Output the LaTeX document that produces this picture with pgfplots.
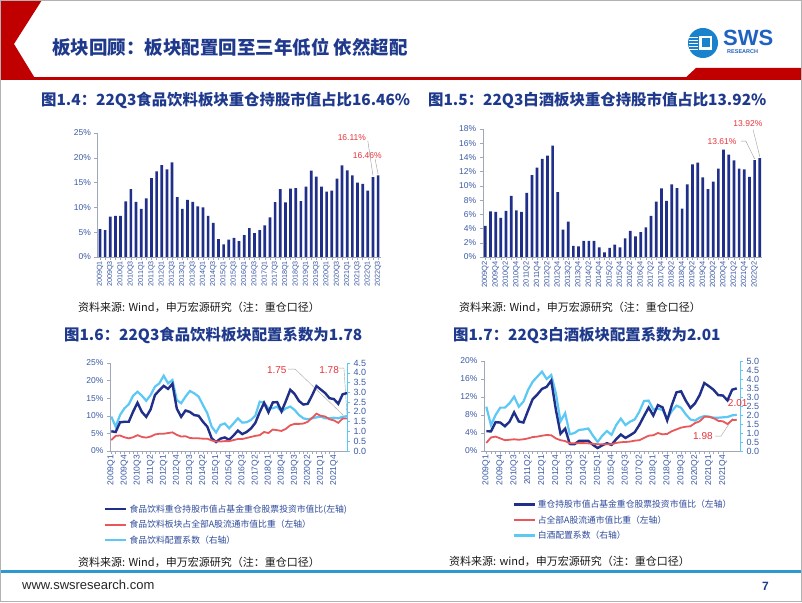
\documentclass[border=0pt]{standalone}
\usepackage{pgfplots}
\pgfplotsset{compat=1.18}
\usepackage{pgfplotstable}
\usepackage{fontspec}
\setmainfont{Liberation Sans}
\newfontfamily\cjk{Noto Sans CJK SC}
\definecolor{navy}{HTML}{1F2F8A}
\definecolor{lred}{HTML}{E8585A}
\definecolor{lblue}{HTML}{5BC8F5}
\definecolor{titleblue}{HTML}{1F3A8C}
\definecolor{tickblue}{HTML}{3B5BA5}
\definecolor{legblue}{HTML}{2E4A9A}
\definecolor{axisgray}{HTML}{A0A8B8}
\definecolor{hdrred}{HTML}{C00000}
\definecolor{footblue}{HTML}{2C9AD1}
\definecolor{annored}{HTML}{E8333A}
\definecolor{logoblue}{HTML}{1E63C0}

% Chart 1: food & beverage heavy-holding share (2009Q1-2022Q3)
\pgfplotstableread[row sep=\\]{
v\\ 5.6\\ 5.4\\ 8.15\\ 8.3\\ 8.3\\ 11.2\\ 13.7\\ 11.1\\ 9.7\\ 11.8\\
15.9\\ 17.25\\ 18.5\\ 17.65\\ 19.1\\ 12.05\\ 9.7\\ 11.5\\ 11.1\\ 10.2\\
10.0\\ 8.3\\ 6.9\\ 3.6\\ 2.55\\ 3.5\\ 3.85\\ 3.2\\ 4.4\\ 5.8\\
4.8\\ 5.4\\ 6.4\\ 8.0\\ 11.05\\ 13.7\\ 11.0\\ 13.8\\ 13.9\\ 11.25\\
14.2\\ 17.4\\ 16.2\\ 14.2\\ 13.2\\ 13.4\\ 15.8\\ 18.45\\ 17.45\\ 16.45\\
15.0\\ 14.75\\ 13.4\\ 16.11\\ 16.46\\
}\tA
% Chart 2: baijiu heavy-holding share (2009Q2-2022Q3)
\pgfplotstableread[row sep=\\]{
v\\ 4.36\\ 6.4\\ 6.33\\ 5.5\\ 6.5\\ 8.6\\ 6.56\\ 6.33\\ 9.0\\ 11.53\\
12.56\\ 13.8\\ 14.25\\ 15.66\\ 9.14\\ 3.84\\ 4.97\\ 1.55\\ 1.5\\ 2.25\\
2.25\\ 2.25\\ 1.36\\ 0.66\\ 1.27\\ 1.73\\ 1.36\\ 2.63\\ 3.66\\ 2.9\\
3.5\\ 4.17\\ 5.8\\ 7.78\\ 9.66\\ 7.88\\ 10.2\\ 9.7\\ 6.8\\ 10.2\\
13.03\\ 13.27\\ 11.2\\ 9.56\\ 10.6\\ 12.42\\ 15.1\\ 14.4\\ 13.6\\ 12.42\\
12.33\\ 11.25\\ 13.61\\ 13.92\\
}\tB
% Chart 3: d = holding share, r = A-share weight, c = allocation coefficient
\pgfplotstableread[row sep=\\]{
d r c\\
5.6 3.1 1.76\\ 5.4 4.3 1.24\\ 8.15 4.4 1.84\\ 8.3 3.9 2.18\\ 8.3 3.6 2.39\\
11.2 3.9 2.83\\ 13.7 4.5 3.03\\ 11.1 4.0 2.83\\ 9.7 3.8 2.57\\ 11.8 4.1 2.86\\
15.9 4.7 3.29\\ 17.25 4.9 3.46\\ 18.5 4.9 3.85\\ 17.65 5.1 3.46\\ 19.1 5.3 3.63\\
12.05 4.6 2.61\\ 9.7 4.1 2.44\\ 11.5 4.2 2.78\\ 11.1 3.7 3.07\\ 10.2 3.6 2.95\\
10.0 3.6 2.78\\ 8.3 3.5 2.35\\ 6.9 3.5 1.93\\ 3.6 3.0 1.24\\ 2.55 2.7 0.95\\
3.5 2.7 1.33\\ 3.85 2.8 1.41\\ 3.2 2.8 1.16\\ 4.4 3.1 1.41\\ 5.8 3.4 1.67\\
4.8 3.4 1.45\\ 5.4 3.7 1.47\\ 6.4 4.0 1.59\\ 8.0 4.3 1.81\\ 11.05 4.5 2.52\\
13.7 5.4 2.47\\ 11.0 5.1 2.18\\ 13.8 6.1 2.18\\ 13.9 5.9 2.27\\ 11.25 5.7 2.01\\
14.2 6.3 2.18\\ 17.4 7.3 2.27\\ 16.2 7.7 2.1\\ 14.2 7.7 1.84\\ 13.2 7.8 1.67\\
13.4 8.3 1.62\\ 15.8 9.4 1.67\\ 18.45 10.6 1.72\\ 17.45 10.0 1.76\\ 16.45 9.8 1.67\\
15.0 9.0 1.67\\ 14.75 8.7 1.70\\ 13.4 8.0 1.67\\ 16.11 9.2 1.75\\ 16.46 9.25 1.78\\
}\tC
% Chart 4
\pgfplotstableread[row sep=\\]{
d r c\\
4.4 1.8 2.46\\ 4.36 3.0 1.44\\ 6.4 3.2 2.0\\ 6.33 2.8 2.41\\ 5.5 2.4 2.41\\
6.5 2.5 2.65\\ 8.6 2.6 3.02\\ 6.56 2.5 2.46\\ 6.33 2.6 2.74\\ 9.0 2.8 3.39\\
11.53 3.1 3.85\\ 12.56 3.2 4.13\\ 13.8 3.4 4.41\\ 14.25 3.55 4.0\\ 15.66 3.5 4.22\\
9.14 2.8 3.2\\ 3.84 2.4 1.65\\ 4.97 2.2 2.1\\ 1.55 1.7 0.93\\ 1.5 1.7 1.0\\
2.25 1.75 1.17\\ 2.25 1.75 1.2\\ 2.25 1.7 1.25\\ 1.36 1.6 0.85\\ 0.66 1.5 0.5\\
1.27 1.5 0.85\\ 1.73 1.5 1.11\\ 1.36 1.5 0.9\\ 2.63 1.8 1.44\\ 3.66 1.95 1.8\\
2.9 2.0 1.44\\ 3.5 2.1 1.63\\ 4.17 2.3 1.75\\ 5.8 2.4 2.19\\ 7.78 2.9 2.78\\
9.66 3.4 2.8\\ 7.88 3.5 2.3\\ 10.2 4.0 2.35\\ 9.7 3.7 2.28\\ 6.8 3.8 1.78\\
10.2 4.4 2.22\\ 13.03 4.8 2.52\\ 13.27 5.2 2.4\\ 11.2 5.4 2.04\\ 9.56 5.5 1.75\\
10.6 6.2 1.69\\ 12.42 6.6 1.85\\ 15.1 7.6 1.94\\ 14.4 7.6 1.91\\ 13.6 7.3 1.85\\
12.42 6.7 1.85\\ 12.33 6.6 1.87\\ 11.25 6.0 1.89\\ 13.61 6.87 1.98\\ 13.92 6.93 2.01\\
}\tD

\pgfplotsset{
  base/.style={scale only axis, anchor=south west, clip=false,
    /pgf/number format/assume math mode=true,
    tick label style={text=tickblue},
    axis line style={axisgray}, tick style={axisgray, line width=0.5pt},
    tick align=outside, major tick length=3pt, minor tick length=3pt},
  pct/.style={yticklabel={\pgfmathprintnumber{\tick}\%}},
  qlab/.style={xtick={0,3,...,51}, minor x tick num=2,
    xticklabels={2009Q1,2009Q4,2010Q3,2011Q2,2012Q1,2012Q4,2013Q3,2014Q2,2015Q1,2015Q4,2016Q3,2017Q2,2018Q1,2018Q4,2019Q3,2020Q2,2021Q1,2021Q4},
    xticklabel style={rotate=90, anchor=east, inner sep=1pt, font=\fontsize{8.5}{9}\selectfont}},
  leg/.style={legend style={draw=none, fill=none, inner sep=0pt, row sep=2.5pt,
    font={\cjk\fontsize{8.8}{10}\selectfont}, text=legblue, cells={anchor=west}},
    legend image code/.code={\draw[##1] (0pt,0pt) -- (21pt,0pt);}},
}

\begin{document}
\begin{tikzpicture}[x=1pt,y=1pt]
\useasboundingbox (0,0) rectangle (802,602);
\fill[white] (0,0) rectangle (802,602);
% header
\fill[hdrred] (0,602) -- (42,602) -- (14,558) -- (36,522) -- (0,522) -- cycle;
\fill[hdrred] (0,522) rectangle (802,525);
\fill[hdrred] (683,522) -- (696,534) -- (802,534) -- (802,522) -- cycle;
\node[anchor=west, inner sep=0pt, font={\cjk\bfseries\fontsize{18.5}{20}\selectfont}, text=titleblue] at (52,555) {板块回顾：板块配置回至三年低位 依然超配};
% logo
\fill[logoblue!80!cyan] (703,559) circle (15);
\fill[white] (699,552) rectangle (712,566);
\fill[logoblue!80!cyan] (701.5,554.5) rectangle (709.5,563.5);
\foreach \k in {0,...,4} {\fill[white] (689,551.5+3*\k) rectangle (698,553+3*\k);}
\node[anchor=west, inner sep=0pt, font=\fontsize{22}{22}\selectfont\bfseries, text=logoblue] at (723,564) {SWS};
\node[anchor=west, inner sep=0pt, font=\fontsize{5.5}{5.5}\selectfont\bfseries, text=logoblue] at (727,550) {RESEARCH};
% footer
\fill[footblue] (0,29.5) rectangle (802,32.5);
\node[anchor=west, inner sep=0pt, font=\fontsize{13}{14}\selectfont, text=black!85] at (22,17) {www.swsresearch.com};
\node[anchor=west, inner sep=0pt, font=\fontsize{12}{13}\selectfont\bfseries, text=titleblue] at (762,16) {7};
\draw[gray!60, line width=1pt] (0.5,0.5) rectangle (801.5,601.5);

% titles
\node[anchor=west, inner sep=0pt, font={\cjk\bfseries\fontsize{15.4}{17}\selectfont}, text=titleblue] at (41,502) {图1.4：22Q3食品饮料板块重仓持股市值占比16.46\%};
\node[anchor=west, inner sep=0pt, font={\cjk\bfseries\fontsize{15.4}{17}\selectfont}, text=titleblue] at (428,502) {图1.5：22Q3白酒板块重仓持股市值占比13.92\%};
\node[anchor=west, inner sep=0pt, font={\cjk\bfseries\fontsize{15.4}{17}\selectfont}, text=titleblue] at (64,267) {图1.6：22Q3食品饮料板块配置系数为1.78};
\node[anchor=west, inner sep=0pt, font={\cjk\bfseries\fontsize{15.4}{17}\selectfont}, text=titleblue] at (453,267) {图1.7：22Q3白酒板块配置系数为2.01};
% sources
\node[anchor=west, inner sep=0pt, font={\cjk\fontsize{11}{12}\selectfont}, text=black!90] at (78,295) {资料来源: Wind，申万宏源研究（注：重仓口径）};
\node[anchor=west, inner sep=0pt, font={\cjk\fontsize{11}{12}\selectfont}, text=black!90] at (459,295) {资料来源: Wind，申万宏源研究（注：重仓口径）};
\node[anchor=west, inner sep=0pt, font={\cjk\fontsize{11}{12}\selectfont}, text=black!90] at (78,40) {资料来源: Wind，申万宏源研究（注：重仓口径）};
\node[anchor=west, inner sep=0pt, font={\cjk\fontsize{11}{12}\selectfont}, text=black!90] at (449,41) {资料来源: wind，申万宏源研究（注：重仓口径）};

% ---------- Chart 1 ----------
\begin{axis}[base, pct, at={(97.4pt,345pt)}, width=283.3pt, height=124pt,
  xmin=-0.5, xmax=54.5, ymin=0, ymax=25, ytick={0,5,...,25},
  axis x line*=bottom, axis y line*=left,
  xtick={0,2,...,54}, minor x tick num=1,
  xticklabels={2009Q1,2009Q3,2010Q1,2010Q3,2011Q1,2011Q3,2012Q1,2012Q3,2013Q1,2013Q3,2014Q1,2014Q3,2015Q1,2015Q3,2016Q1,2016Q3,2017Q1,2017Q3,2018Q1,2018Q3,2019Q1,2019Q3,2020Q1,2020Q3,2021Q1,2021Q3,2022Q1,2022Q3},
  xticklabel style={rotate=90, anchor=east, inner sep=1pt, font=\fontsize{7.2}{8}\selectfont},
  yticklabel style={font=\fontsize{8.5}{9}\selectfont}]
\addplot[ybar, bar width=2.7pt, fill=navy, draw=none] table[x expr=\coordindex, y=v]{\tA};
\node[text=annored, font=\fontsize{8.5}{9}\selectfont] at (axis cs:48.9,24.0) {16.11\%};
\node[text=annored, font=\fontsize{8.5}{9}\selectfont] at (axis cs:51.9,20.4) {16.46\%};
\draw[gray!80] (axis cs:52.0,23.4) -- (axis cs:53,16.4);
\draw[gray!80] (axis cs:53.4,19.8) -- (axis cs:54,16.7);
\end{axis}

% ---------- Chart 2 ----------
\begin{axis}[base, pct, at={(482.7pt,345pt)}, width=279.7pt, height=128pt,
  xmin=-0.5, xmax=53.5, ymin=0, ymax=18, ytick={0,2,...,18},
  axis x line*=bottom, axis y line*=left,
  xtick={0,2,...,52}, minor x tick num=1,
  xticklabels={2009Q2,2009Q4,2010Q2,2010Q4,2011Q2,2011Q4,2012Q2,2012Q4,2013Q2,2013Q4,2014Q2,2014Q4,2015Q2,2015Q4,2016Q2,2016Q4,2017Q2,2017Q4,2018Q2,2018Q4,2019Q2,2019Q4,2020Q2,2020Q4,2021Q2,2021Q4,2022Q2},
  xticklabel style={rotate=90, anchor=east, inner sep=1pt, font=\fontsize{7.5}{8}\selectfont},
  yticklabel style={font=\fontsize{8.5}{9}\selectfont}]
\addplot[ybar, bar width=2.7pt, fill=navy, draw=none] table[x expr=\coordindex, y=v]{\tB};
\node[text=annored, font=\fontsize{8.5}{9}\selectfont] at (axis cs:45.7,16.3) {13.61\%};
\node[text=annored, font=\fontsize{8.5}{9}\selectfont] at (axis cs:50.7,18.7) {13.92\%};
\draw[gray!80] (axis cs:49.4,16.3) -- (axis cs:50.3,16.3) -- (axis cs:52,13.8);
\draw[gray!80] (axis cs:51.7,17.9) -- (axis cs:53,14.1);
\end{axis}

% ---------- Chart 3 ----------
\begin{axis}[base, at={(110pt,151pt)}, width=237pt, height=88pt,
  xmin=-0.3, xmax=54, ymin=0, ymax=4.5, ytick={0,0.5,...,4.5},
  axis y line*=right, axis x line=none, y axis line style={lblue},
  ytick style={lblue},
  yticklabel={\pgfmathprintnumber[fixed,fixed zerofill,precision=1]{\tick}},
  yticklabel style={font=\fontsize{9}{9}\selectfont}]
\addplot[lblue, line width=2.2pt] table[x expr=\coordindex, y=c]{\tC};
\node[text=annored, font=\fontsize{10}{10}\selectfont] at (axis cs:37.9,4.14) {1.75};
\node[text=annored, font=\fontsize{10}{10}\selectfont] at (axis cs:49.9,4.14) {1.78};
\draw[gray!70] (axis cs:40.5,4.19) -- (axis cs:42.1,4.19) -- (axis cs:53.1,1.84);
\draw[gray!70] (axis cs:52.2,4.24) -- (axis cs:53.3,4.24) -- (axis cs:54,1.84);
\end{axis}
\begin{axis}[base, pct, leg, at={(110pt,151pt)}, width=237pt, height=88pt,
  xmin=-0.3, xmax=54, ymin=0, ymax=25, ytick={0,5,...,25},
  axis x line*=bottom, axis y line*=left, qlab,
  yticklabel style={font=\fontsize{8.5}{9}\selectfont},
  legend style={at={(-0.025,-0.585)}, anchor=north west}]
\addplot[navy, line width=2.4pt] table[x expr=\coordindex, y=d]{\tC};
\addlegendentry{食品饮料重仓持股市值占基金重仓股票投资市值比(左轴)}
\addplot[lred, line width=1.8pt] table[x expr=\coordindex, y=r]{\tC};
\addlegendentry{食品饮料板块占全部A股流通市值比重（左轴）}
\addlegendimage{lblue, line width=2.2pt}
\addlegendentry{食品饮料配置系数（右轴）}
\end{axis}

% ---------- Chart 4 ----------
\begin{axis}[base, at={(484pt,151pt)}, width=256pt, height=90pt,
  xmin=-0.5, xmax=54.7, ymin=0, ymax=5, ytick={0,0.5,...,5},
  axis y line*=right, axis x line=none, y axis line style={lblue},
  ytick style={lblue},
  yticklabel={\pgfmathprintnumber[fixed,fixed zerofill,precision=1]{\tick}},
  yticklabel style={font=\fontsize{9}{9}\selectfont}]
\addplot[lblue, line width=2.2pt] table[x expr=\coordindex, y=c]{\tD};
\node[text=annored, font=\fontsize{10}{10}\selectfont] at (axis cs:54.2,2.67) {2.01};
\node[text=annored, font=\fontsize{10}{10}\selectfont] at (axis cs:46.7,0.83) {1.98};
\draw[gray!70] (axis cs:49.3,0.83) -- (axis cs:50.6,0.83) -- (axis cs:53.2,1.83);
\end{axis}
\begin{axis}[base, pct, leg, at={(484pt,151pt)}, width=256pt, height=90pt,
  xmin=-0.5, xmax=54.7, ymin=0, ymax=20, ytick={0,4,...,20},
  axis x line*=bottom, axis y line*=left, qlab,
  yticklabel style={font=\fontsize{8.5}{9}\selectfont},
  legend style={at={(0.11,-0.52)}, anchor=north west}]
\addplot[navy, line width=2.4pt] table[x expr=\coordindex, y=d]{\tD};
\addlegendentry{重仓持股市值占基金重仓股票投资市值比（左轴）}
\addplot[lred, line width=1.8pt] table[x expr=\coordindex, y=r]{\tD};
\addlegendentry{占全部A股流通市值比重（左轴）}
\addlegendimage{lblue, line width=2.2pt}
\addlegendentry{白酒配置系数（右轴）}
\end{axis}
\end{tikzpicture}
\end{document}
